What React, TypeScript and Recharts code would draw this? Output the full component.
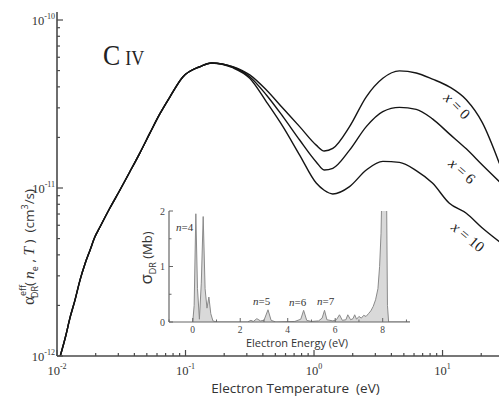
import React from "react";
import { ComposedChart, Line, XAxis, YAxis, AreaChart, Area } from "recharts";

// ── main panel: effective DR rate coefficient vs electron temperature (eV) ──
const temperatures = [
  0.0106, 0.0117, 0.0126, 0.0138, 0.0151, 0.0165, 0.0181, 0.0197, 0.0216, 0.0258,
  0.0309, 0.0369, 0.0442, 0.0528, 0.0631, 0.0755, 0.0953, 0.129, 0.16, 0.233,
  0.316, 0.426, 0.573, 0.773, 1.04, 1.2, 1.4, 1.89, 2.55, 3.43,
  4.62, 6.24, 8.35, 11.3, 15.3, 20.4, 27.7,
];
const rateX0 = [
  1.0e-12, 1.32e-12, 1.68e-12, 2.15e-12, 2.83e-12, 3.53e-12, 4.28e-12, 5.11e-12, 5.86e-12, 7.6e-12,
  9.73e-12, 1.25e-11, 1.62e-11, 2.12e-11, 2.76e-11, 3.48e-11, 4.58e-11, 5.27e-11, 5.55e-11, 5.28e-11,
  4.71e-11, 3.83e-11, 2.98e-11, 2.32e-11, 1.8e-11, 1.66e-11, 1.72e-11, 2.32e-11, 3.49e-11, 4.5e-11,
  4.98e-11, 4.84e-11, 4.45e-11, 4.0e-11, 3.35e-11, 2.45e-11, 1.4e-11,
];
const rateX6 = [
  1.0e-12, 1.32e-12, 1.68e-12, 2.15e-12, 2.83e-12, 3.53e-12, 4.28e-12, 5.11e-12, 5.86e-12, 7.6e-12,
  9.73e-12, 1.25e-11, 1.62e-11, 2.12e-11, 2.76e-11, 3.48e-11, 4.58e-11, 5.27e-11, 5.55e-11, 5.25e-11,
  4.6e-11, 3.58e-11, 2.66e-11, 1.93e-11, 1.43e-11, 1.28e-11, 1.31e-11, 1.68e-11, 2.32e-11, 2.85e-11,
  3.02e-11, 2.94e-11, 2.58e-11, 2.1e-11, 1.71e-11, 1.37e-11, 1.09e-11,
];
const rateX10 = [
  1.0e-12, 1.32e-12, 1.68e-12, 2.15e-12, 2.83e-12, 3.53e-12, 4.28e-12, 5.11e-12, 5.86e-12, 7.6e-12,
  9.73e-12, 1.25e-11, 1.62e-11, 2.12e-11, 2.76e-11, 3.48e-11, 4.58e-11, 5.27e-11, 5.55e-11, 5.2e-11,
  4.5e-11, 3.26e-11, 2.32e-11, 1.57e-11, 1.07e-11, 9.7e-12, 9.22e-12, 1.02e-11, 1.28e-11, 1.44e-11,
  1.42e-11, 1.27e-11, 1.07e-11, 8.11e-12, 7.07e-12, 5.78e-12, 4.79e-12,
];

const tempDecades = [0.01, 0.1, 1, 10];
const rateDecades = [1e-12, 1e-11, 1e-10];
const minorSteps = [1, 2, 3, 4, 5, 6, 7, 8, 9];

// ── inset: DR cross section vs electron energy ──
const energies = [
  0, 0.06, 0.13, 0.2, 0.28, 0.36, 0.44, 0.52, 0.6, 0.68,
  0.76, 0.85, 1.0, 2.3, 2.45, 2.55, 2.7, 2.85, 3.0, 3.17,
  3.3, 3.5, 4.3, 4.55, 4.67, 4.8, 5.0, 5.3, 5.45, 5.55,
  5.65, 5.9, 6.05, 6.18, 6.3, 6.45, 6.53, 6.65, 6.75, 6.82,
  6.9, 7.0, 7.1, 7.2, 7.3, 7.4, 7.5, 7.6, 7.7, 7.8,
  7.87, 7.93, 7.97, 8.05, 8.15, 8.2, 8.25, 9.2,
];
const sigmaDR = [
  0, 0.3, 1.95, 0.6, 0.05, 0.7, 1.9, 0.6, 0.25, 0.45,
  0.15, 0.02, 0, 0, 0.03, 0.01, 0.06, 0.02, 0.03, 0.22,
  0.03, 0, 0.01, 0.05, 0.21, 0.03, 0.01, 0.02, 0.07, 0.21,
  0.04, 0.02, 0.04, 0.13, 0.03, 0.04, 0.13, 0.04, 0.06, 0.13,
  0.05, 0.1, 0.07, 0.12, 0.1, 0.15, 0.2, 0.28, 0.4, 0.6,
  1.0, 1.6, 2.5, 3, 3, 0.3, 0, 0,
];
const energyTicks = [-1, 0, 1, 2, 3, 4, 5, 6, 7, 8, 9];
const energyLabels = [0, 2, 4, 6, 8];
const sigmaTicks = [0, 0.5, 1, 1.5, 2];
const sigmaLabels = [0, 1, 2];

const mainData = temperatures.map((t, i) => ({
  t,
  x0: rateX0[i],
  x6: rateX6[i],
  x10: rateX10[i],
}));
const insetData = energies.map((e, i) => ({ e, s: sigmaDR[i] }));

const tempTicks = tempDecades.flatMap((d) => minorSteps.map((m) => +(d * m).toPrecision(3)));
const rateTicks = rateDecades
  .flatMap((d) => minorSteps.map((m) => +(d * m).toPrecision(3)))
  .filter((v) => v <= 1.001e-10);

const FRAME = "#4a4a4a";
const SERIF = "'Liberation Serif', 'DejaVu Serif', serif";
const SANS = "'Open Sans', 'Noto Sans', sans-serif";

type Side = "bottom" | "top" | "left" | "right";

function isDecade(v: number) {
  const l = Math.log10(v);
  return Math.abs(l - Math.round(l)) < 1e-6;
}

function LogTick(props: any) {
  const { x, y, payload, side } = props as { x: number; y: number; payload: { value: number }; side: Side };
  const v = payload.value;
  const major = isDecade(v);
  const len = major ? 6 : 3;
  const exp = Math.round(Math.log10(v));
  let line;
  if (side === "bottom") line = <line x1={x} x2={x} y1={y} y2={y - len} />;
  else if (side === "top") line = <line x1={x} x2={x} y1={y} y2={y + len} />;
  else if (side === "left") line = <line x1={x} x2={x + len} y1={y} y2={y} />;
  else line = <line x1={x} x2={x - len} y1={y} y2={y} />;
  return (
    <g stroke={FRAME} strokeWidth={1.2}>
      {line}
      {major && side === "bottom" && (
        <text x={x} y={y + 19} textAnchor="middle" fontFamily={SERIF} fontSize={12.5} fill="#333" stroke="none">
          10<tspan dy={-6} fontSize={8}>{exp}</tspan>
        </text>
      )}
      {major && side === "left" && (
        <text x={x - 2} y={y + 5} textAnchor="end" fontFamily={SERIF} fontSize={12.5} fill="#333" stroke="none">
          10<tspan dy={-6} fontSize={8}>{exp}</tspan>
        </text>
      )}
    </g>
  );
}

function LinTick(props: any) {
  const { x, y, payload, side, labels } = props as {
    x: number; y: number; payload: { value: number }; side: Side; labels?: number[];
  };
  const v = payload.value;
  const labelled = !!labels && labels.includes(v);
  const len = Number.isInteger(v) && (side === "left" || side === "right") ? 4 : v % 2 === 0 ? 4 : 2.5;
  let line;
  if (side === "bottom") line = <line x1={x} x2={x} y1={y} y2={y - len} />;
  else if (side === "top") line = <line x1={x} x2={x} y1={y} y2={y + len} />;
  else if (side === "left") line = <line x1={x} x2={x + len} y1={y} y2={y} />;
  else line = <line x1={x} x2={x - len} y1={y} y2={y} />;
  return (
    <g stroke="#666" strokeWidth={1}>
      {line}
      {labelled && side === "bottom" && (
        <text x={x} y={y + 11} textAnchor="middle" fontFamily={SERIF} fontSize={9.5} fill="#444" stroke="none">
          {v}
        </text>
      )}
      {labelled && side === "left" && (
        <text x={x - 4} y={y + 3.5} textAnchor="end" fontFamily={SERIF} fontSize={10} fill="#444" stroke="none">
          {v}
        </text>
      )}
    </g>
  );
}

function MainChart() {
  const axisLine = { stroke: FRAME, strokeWidth: 1.6 };
  return (
    <ComposedChart width={500} height={399} data={mainData} margin={{ top: 12, right: 1, bottom: 0, left: 0 }}>
      <XAxis
        xAxisId="b" dataKey="t" type="number" scale="log" domain={[0.01, 27.5]} allowDataOverflow
        ticks={tempTicks} interval={0} height={43} tickSize={0} tickMargin={0} tickLine={false}
        axisLine={axisLine} tick={(p: any) => <LogTick {...p} side="bottom" />}
      />
      <XAxis
        xAxisId="t" orientation="top" dataKey="t" type="number" scale="log" domain={[0.01, 27.5]} allowDataOverflow
        ticks={tempTicks} interval={0} height={0} tickSize={0} tickMargin={0} tickLine={false}
        axisLine={axisLine} tick={(p: any) => <LogTick {...p} side="top" />}
      />
      <YAxis
        yAxisId="l" type="number" scale="log" domain={[1e-12, 1.116e-10]} allowDataOverflow
        ticks={rateTicks} interval={0} width={57} tickSize={0} tickMargin={0} tickLine={false}
        axisLine={axisLine} tick={(p: any) => <LogTick {...p} side="left" />}
      />
      <YAxis
        yAxisId="r" orientation="right" type="number" scale="log" domain={[1e-12, 1.116e-10]} allowDataOverflow
        ticks={rateTicks} interval={0} width={0} tickSize={0} tickMargin={0} tickLine={false}
        axisLine={axisLine} tick={(p: any) => <LogTick {...p} side="right" />}
      />
      {["x0", "x6", "x10"].map((k) => (
        <Line
          key={k} xAxisId="b" yAxisId="l" dataKey={k} type="monotone" stroke="#151515"
          strokeWidth={1.4} dot={false} isAnimationActive={false}
        />
      ))}
    </ComposedChart>
  );
}

function InsetChart() {
  const axisLine = { stroke: "#666", strokeWidth: 1.2 };
  return (
    <AreaChart width={500} height={399} data={insetData} margin={{ top: 211, right: 90, bottom: 0, left: 0 }}>
      <XAxis
        xAxisId="b" dataKey="e" type="number" domain={[-1, 9.15]} allowDataOverflow ticks={energyTicks}
        interval={0} height={77} tickSize={0} tickMargin={0} tickLine={false} axisLine={axisLine}
        tick={(p: any) => <LinTick {...p} side="bottom" labels={energyLabels} />}
      />
      <XAxis
        xAxisId="t" orientation="top" dataKey="e" type="number" domain={[-1, 9.15]} allowDataOverflow
        ticks={energyTicks} interval={0} height={0} tickSize={0} tickMargin={0} tickLine={false}
        axisLine={axisLine} tick={(p: any) => <LinTick {...p} side="top" />}
      />
      <YAxis
        yAxisId="l" type="number" domain={[0, 2]} allowDataOverflow ticks={sigmaTicks} interval={0}
        width={169} tickSize={0} tickMargin={0} tickLine={false} axisLine={axisLine}
        tick={(p: any) => <LinTick {...p} side="left" labels={sigmaLabels} />}
      />
      <YAxis
        yAxisId="r" orientation="right" type="number" domain={[0, 2]} allowDataOverflow ticks={sigmaTicks}
        interval={0} width={0} tickSize={0} tickMargin={0} tickLine={false} axisLine={axisLine}
        tick={(p: any) => <LinTick {...p} side="right" />}
      />
      <Area
        xAxisId="b" yAxisId="l" dataKey="s" type="linear" baseValue={0} stroke="#8a8a8a" strokeWidth={1}
        fill="#d9d9d9" fillOpacity={1} isAnimationActive={false}
      />
    </AreaChart>
  );
}

// titles and in-plot annotations
function Annotations() {
  const curveLabel = (cx: number, cy: number, n: string, angle: number) => (
    <text
      x={cx} y={cy + 5} textAnchor="middle" transform={`rotate(${angle} ${cx} ${cy})`}
      fontFamily={SERIF} fontSize={15} fill="#222"
    >
      <tspan fontStyle="italic">x</tspan> = {n}
    </text>
  );
  const nLabel = (x: number, y: number, n: number) => (
    <text x={x} y={y} fontFamily={SERIF} fontSize={11} fill="#333">
      <tspan fontStyle="italic">n</tspan>={n}
    </text>
  );
  return (
    <svg width={500} height={399} style={{ position: "absolute", left: 0, top: 0, pointerEvents: "none" }}>
      <g transform="translate(103 65) scale(0.86 1)">
        <text x={0} y={0} fontFamily={SERIF} fill="#222">
          <tspan fontSize={30}>C</tspan>
          <tspan fontSize={21} dx={6}>IV</tspan>
        </text>
      </g>
      {curveLabel(457, 106, "0", 45)}
      {curveLabel(462, 171, "6", 42)}
      {curveLabel(468, 237, "10", 40)}

      <text x={295.5} y={393} textAnchor="middle" fontFamily={SANS} fontSize={13.5} fill="#333">
        Electron Temperature{"\u00a0\u00a0"}(eV)
      </text>

      <text transform="rotate(-90 34 247)" x={34} y={247} textAnchor="middle" fill="#333" fontFamily={SANS} fontSize={13.5}>
        <tspan fontFamily={SERIF} fontSize={17}>α</tspan>
        <tspan fontSize={9} dy={-8}>eff</tspan>
        <tspan fontSize={9} dx={-13} dy={12}>DR</tspan>
        <tspan dy={-4}>(</tspan>
        <tspan fontFamily={SERIF} fontStyle="italic" fontSize={15.5} dx={3}>n</tspan>
        <tspan fontSize={9} dy={4}>e</tspan>
        <tspan dy={-4}> , </tspan>
        <tspan fontFamily={SERIF} fontStyle="italic" fontSize={15.5}>T</tspan>
        <tspan>{"\u00a0)\u00a0\u00a0(cm"}</tspan>
        <tspan fontSize={9} dy={-6}>3</tspan>
        <tspan dy={6}>/s)</tspan>
      </text>

      <text transform="rotate(-90 152 258)" x={152} y={258} textAnchor="middle" fill="#333" fontFamily={SANS} fontSize={13}>
        <tspan fontSize={17}>σ</tspan>
        <tspan fontSize={9} dy={4}>DR</tspan>
        <tspan dy={-4}>{"\u00a0(Mb)"}</tspan>
      </text>
      <text x={297} y={346.5} textAnchor="middle" fontFamily={SANS} fontSize={11} fill="#333">
        Electron Energy (eV)
      </text>

      {nLabel(176, 231, 4)}
      {nLabel(253, 305, 5)}
      {nLabel(289, 306, 6)}
      {nLabel(317, 305, 7)}
    </svg>
  );
}

export default function App() {
  return (
    <div style={{ position: "absolute", left: 0, top: 0, width: 500, height: 399, background: "#fff" }}>
      <div style={{ position: "absolute", left: 0, top: 0 }}>
        <MainChart />
      </div>
      <div style={{ position: "absolute", left: 0, top: 0 }}>
        <InsetChart />
      </div>
      <Annotations />
    </div>
  );
}
